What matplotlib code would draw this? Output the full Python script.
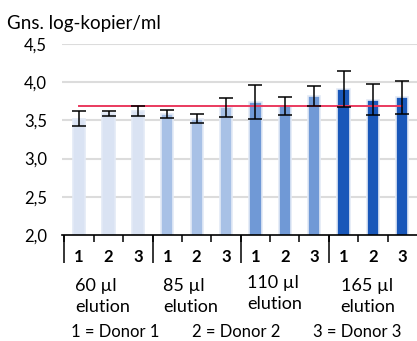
import numpy as np
import matplotlib.pyplot as plt
import matplotlib.transforms as mtransforms

plt.rcParams['font.family'] = ['Lato', 'DejaVu Sans']

# data
groups = ['60 µl\nelution', '85 µl\nelution', '110 µl\nelution', '165 µl\nelution']
donors = ['1', '2', '3']
means = [3.52, 3.59, 3.62,
         3.58, 3.52, 3.67,
         3.74, 3.69, 3.82,
         3.91, 3.77, 3.80]
errs = [0.10, 0.03, 0.065,
        0.055, 0.06, 0.12,
        0.22, 0.115, 0.13,
        0.23, 0.20, 0.22]
reference_level = 3.69
group_colors = ['#dae3f3', '#a8c1e6', '#7099d6', '#1957b9']
yticks = [2.0, 2.5, 3.0, 3.5, 4.0, 4.5]

fig = plt.figure(figsize=(4.17, 3.41), dpi=100)
ax = fig.add_axes([0.149, 0.311, 0.851, 0.560])

x = np.arange(len(means))
colors = [group_colors[i // 3] for i in x]
ax.bar(x, means, width=0.42, color=colors, edgecolor='#e3eaf6', linewidth=1.2, zorder=2)
ax.errorbar(x, means, yerr=errs, fmt='none', ecolor='black', elinewidth=1.1,
            capsize=5, capthick=1.1, zorder=4)
ax.plot([x[0], x[-1]], [reference_level, reference_level], color='#ea3a5e', lw=1.4, zorder=3)

ax.set_xlim(-0.58, 11.5)
ax.set_ylim(2.0, 4.5)
ax.set_yticks(yticks)
ax.set_yticklabels([f'{v:.1f}'.replace('.', ',') for v in yticks], fontsize=12)
for v in yticks[1:]:
    ax.axhline(v, color='#dcdcdc', lw=1.5, zorder=1)

for s in ['top', 'right', 'left']:
    ax.spines[s].set_visible(False)
ax.spines['bottom'].set_linewidth(1.2)
ax.tick_params(axis='y', length=0, pad=11)

ax.set_xticks(x)
ax.set_xticklabels(donors * 4, fontweight='bold', fontsize=12)
ax.set_xticks(np.arange(-0.5, 11, 1.0), minor=True)
ax.tick_params(axis='x', which='major', length=0, pad=10)
ax.tick_params(axis='x', which='minor', length=5, width=1.1)

sec = ax.secondary_xaxis('bottom')
sec.set_xticks([-0.5, 2.5, 5.5, 8.5])
sec.set_xticklabels([])
sec.tick_params(length=20, width=1.1)
sec.spines['bottom'].set_visible(False)

trans = mtransforms.blended_transform_factory(ax.transData, fig.transFigure)
for gx, label, gy in zip([0.8, 3.8, 6.65, 9.83], groups, [0.130, 0.130, 0.139, 0.130]):
    ax.text(gx, gy, label, transform=trans, ha='center', va='center',
            multialignment='left', fontsize=13, linespacing=1.35)
for dx, label in zip([1.22, 5.34, 9.46], ['1 = Donor 1', '2 = Donor 2', '3 = Donor 3']):
    ax.text(dx, 0.025, label, transform=trans, ha='center', va='center', fontsize=12)

fig.text(0.017, 0.915, 'Gns. log-kopier/ml', fontsize=13.5, va='baseline')

fig.savefig('out.png', dpi=100)
